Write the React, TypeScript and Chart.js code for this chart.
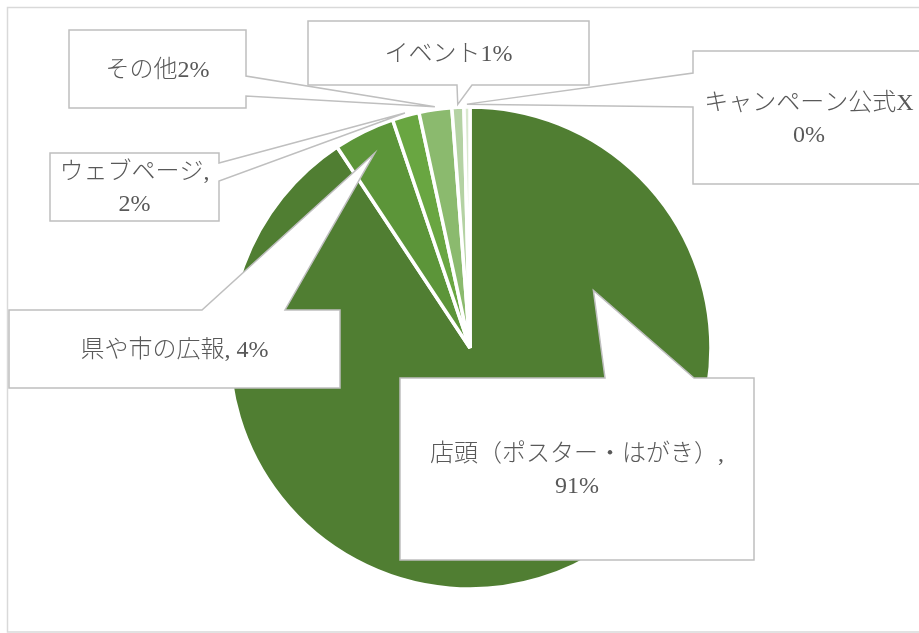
import { useEffect, useRef } from 'react';
import { Chart, registerables } from 'chart.js';

Chart.register(...registerables);

// ---- data ----
const categories = ['店頭（ポスター・はがき）', '県や市の広報', 'ウェブページ', 'その他', 'イベント', 'キャンペーン公式X'];
const shares = [90.7, 4.1, 1.8, 2.2, 0.8, 0.4];
const labelFormats = ['{c},\n{p}', '{c}, {p}', '{c},\n{p}', '{c}{p}', '{c}{p}', '{c}\n{p}'];
const sliceColors = ['#507E32', '#5C9539', '#69A641', '#8BBA6E', '#B4D2A3', '#D9E8CF'];

// ---- callout layout (boxes and pointer geometry) ----
type Side = 'top' | 'right' | 'bottom' | 'left';
interface Callout {
  box: [number, number, number, number];
  side: Side;
  base: [number, number];
  tip: { angle?: number; frac: number };
}
const callouts: Callout[] = [
  { box: [400, 378, 354, 182], side: 'top', base: [605, 694], tip: { angle: 65, frac: 0.565 } },
  { box: [9, 310, 331, 78], side: 'top', base: [202, 285], tip: { frac: 0.9 } },
  { box: [50, 153, 169, 68], side: 'right', base: [163, 181], tip: { frac: 1.012 } },
  { box: [69, 30, 177, 78], side: 'right', base: [76, 96], tip: { frac: 1.012 } },
  { box: [308, 21, 281, 64], side: 'bottom', base: [457, 472], tip: { frac: 1.012 } },
  { box: [693, 51, 232, 133], side: 'left', base: [73, 107], tip: { frac: 1.012 } },
];

const FONT = '300 24px "Liberation Serif", "Noto Sans CJK JP", serif';
const TEXT_COLOR = '#595959';
const LINE_COLOR = '#BFBFBF';

function labelLines(i: number): string[] {
  const total = shares.reduce((a, b) => a + b, 0);
  const pct = Math.round((shares[i] / total) * 100) + '%';
  return labelFormats[i].replace('{c}', categories[i]).replace('{p}', pct).split('\n');
}

const framePlugin = {
  id: 'frame',
  beforeDraw(chart: any) {
    const ctx = chart.ctx;
    ctx.save();
    ctx.fillStyle = '#FFFFFF';
    ctx.fillRect(0, 0, chart.width, chart.height);
    ctx.strokeStyle = '#D9D9D9';
    ctx.lineWidth = 1.5;
    ctx.strokeRect(7.5, 7.5, chart.width + 20, 624.5);
    ctx.restore();
  },
};

const calloutPlugin = {
  id: 'callouts',
  afterDatasetsDraw(chart: any) {
    const ctx = chart.ctx;
    const meta = chart.getDatasetMeta(0);
    ctx.save();
    callouts.forEach((c, i) => {
      const arc = meta.data[i] as any;
      if (!arc) return;
      const { x: cx, y: cy, startAngle, endAngle, outerRadius } = arc.getProps(
        ['x', 'y', 'startAngle', 'endAngle', 'outerRadius'],
        true
      );
      const a =
        c.tip.angle !== undefined ? ((c.tip.angle - 90) * Math.PI) / 180 : (startAngle + endAngle) / 2;
      const tx = cx + Math.cos(a) * outerRadius * c.tip.frac;
      const ty = cy + Math.sin(a) * outerRadius * c.tip.frac;
      const [x, y, w, h] = c.box;
      const [b1, b2] = c.base;
      ctx.beginPath();
      if (c.side === 'top') {
        ctx.moveTo(x, y);
        ctx.lineTo(b1, y);
        ctx.lineTo(tx, ty);
        ctx.lineTo(b2, y);
        ctx.lineTo(x + w, y);
        ctx.lineTo(x + w, y + h);
        ctx.lineTo(x, y + h);
      } else if (c.side === 'right') {
        ctx.moveTo(x, y);
        ctx.lineTo(x + w, y);
        ctx.lineTo(x + w, b1);
        ctx.lineTo(tx, ty);
        ctx.lineTo(x + w, b2);
        ctx.lineTo(x + w, y + h);
        ctx.lineTo(x, y + h);
      } else if (c.side === 'bottom') {
        ctx.moveTo(x, y);
        ctx.lineTo(x + w, y);
        ctx.lineTo(x + w, y + h);
        ctx.lineTo(b2, y + h);
        ctx.lineTo(tx, ty);
        ctx.lineTo(b1, y + h);
        ctx.lineTo(x, y + h);
      } else {
        ctx.moveTo(x, y);
        ctx.lineTo(x + w, y);
        ctx.lineTo(x + w, y + h);
        ctx.lineTo(x, y + h);
        ctx.lineTo(x, b2);
        ctx.lineTo(tx, ty);
        ctx.lineTo(x, b1);
      }
      ctx.closePath();
      ctx.fillStyle = '#FFFFFF';
      ctx.fill();
      ctx.strokeStyle = LINE_COLOR;
      ctx.lineWidth = 1.5;
      ctx.lineJoin = 'miter';
      ctx.stroke();

      const lines = labelLines(i);
      const lh = 32;
      ctx.fillStyle = TEXT_COLOR;
      ctx.font = FONT;
      ctx.textAlign = 'center';
      ctx.textBaseline = 'middle';
      const mx = x + w / 2;
      const my = y + h / 2 + 2;
      lines.forEach((ln, k) => {
        ctx.fillText(ln, mx, my + (k - (lines.length - 1) / 2) * lh);
      });
    });
    ctx.restore();
  },
};

export default function App() {
  const ref = useRef<HTMLCanvasElement | null>(null);
  useEffect(() => {
    if (!ref.current) return;
    const chart = new Chart(ref.current, {
      type: 'pie',
      data: {
        labels: categories,
        datasets: [
          {
            data: shares,
            backgroundColor: sliceColors,
            borderColor: '#FFFFFF',
            borderWidth: 3.5,
          },
        ],
      },
      options: {
        animation: false,
        responsive: true,
        maintainAspectRatio: false,
        radius: 241,
        layout: { padding: { left: 21, right: 0, top: 63, bottom: 0 } },
        plugins: {
          legend: { display: false },
          tooltip: { enabled: false },
        },
      } as any,
      plugins: [framePlugin, calloutPlugin],
    });
    return () => chart.destroy();
  }, []);
  return (
    <div style={{ position: 'absolute', left: 0, top: 0, width: 919, height: 633 }}>
      <canvas ref={ref} />
    </div>
  );
}
